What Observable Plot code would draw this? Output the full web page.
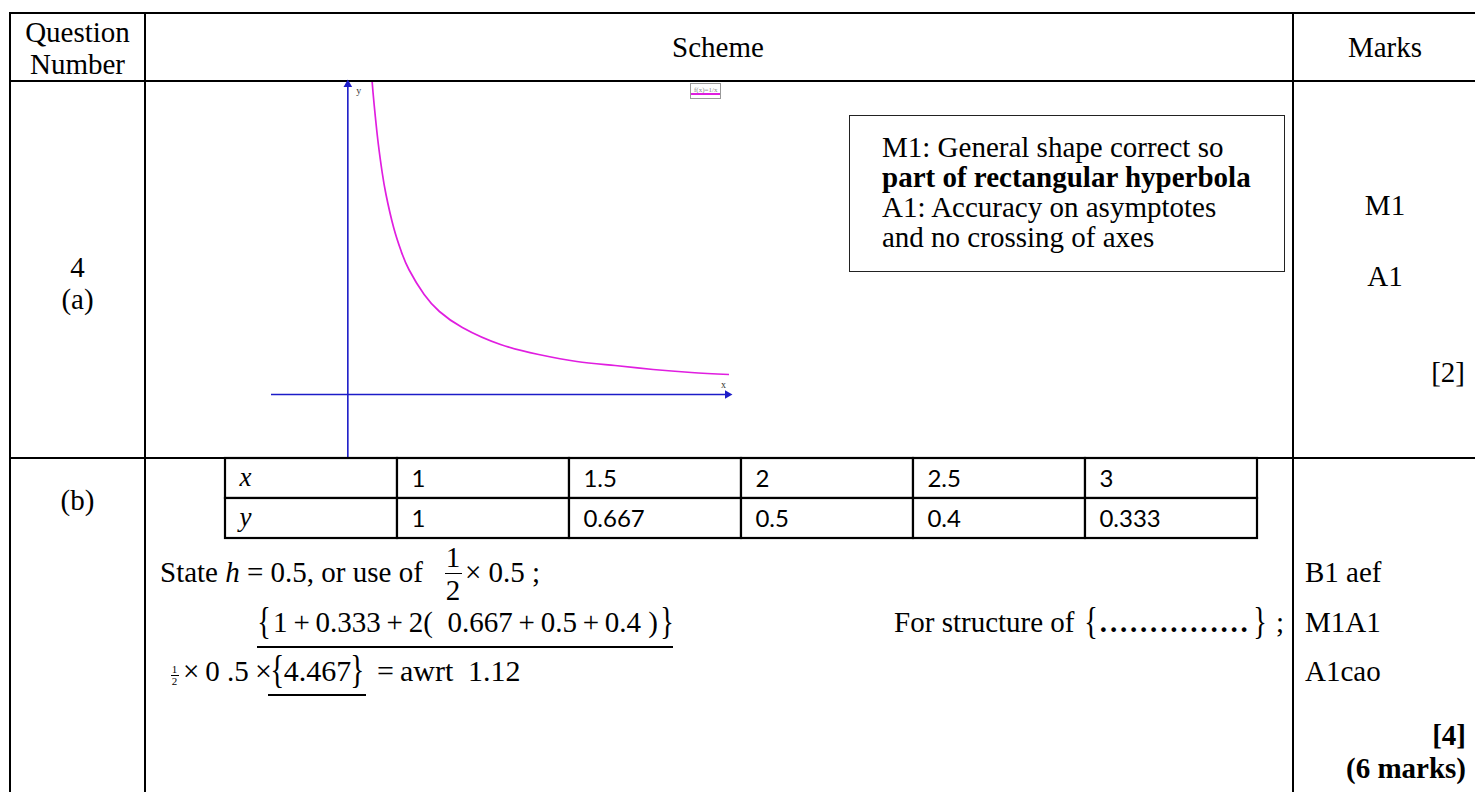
<!DOCTYPE html>
<html><head><meta charset="utf-8">
<script src="https://cdn.jsdelivr.net/npm/d3@7"></script>
<script src="https://cdn.jsdelivr.net/npm/@observablehq/plot@0.6"></script>
<style>
body{margin:0;background:#fff;}
#page{position:relative;width:1475px;height:792px;overflow:hidden;font-family:"Liberation Serif","Times New Roman",serif;color:#000;background:#fff;}
.t{position:absolute;white-space:nowrap;line-height:1;}
.ln{position:absolute;background:#000;}
.br{display:inline-block;line-height:0;font-size:1.3em;transform:scaleX(0.75);vertical-align:-0.06em;}
.br.tight{margin:0 -0.09em;}
</style></head><body><div id="page"></div>
<script>
// ---------- data ----------
// curve f(x) = 1/x
const curveX = [0.30, 0.33, 0.36, 0.40, 0.45, 0.50, 0.60, 0.70, 0.80, 1.00, 1.20, 1.50, 2.00, 2.50, 3.00, 3.50, 4.00, 4.50, 5.00];
const curveY = [3.30, 3.02, 2.78, 2.50, 2.22, 2.00, 1.67, 1.43, 1.25, 1.00, 0.83, 0.67, 0.50, 0.40, 0.33, 0.29, 0.25, 0.22, 0.20];
const graphXDomain = [-1, 5];
const graphYDomain = [-0.64, 3.12];
// table of values
const rowLabels = ["x", "y"];
const tableX = ["1", "1.5", "2", "2.5", "3"];
const tableY = ["1", "0.667", "0.5", "0.4", "0.333"];
// results
const hValue = "0.5";
const bracketSum = "4.467";
const answer = "1.12";

const page = document.getElementById("page");
function line(x, y, w, h, color = "#000") { const d = document.createElement("div"); d.className = "ln"; Object.assign(d.style, {left: x + "px", top: y + "px", width: w + "px", height: h + "px", background: color}); page.appendChild(d); return d; }
// x, baseline y
function text(html, x, base, anchor = "middle", fs = 29, style = {}) {
  const d = document.createElement("div"); d.className = "t"; d.innerHTML = html;
  const tx = anchor === "middle" ? "-50%" : anchor === "end" ? "-100%" : "0";
  Object.assign(d.style, {left: x + "px", top: (base - 0.8375 * fs) + "px", fontSize: fs + "px", transform: `translateX(${tx})`}, style);
  page.appendChild(d); return d;
}
function frac(n, d, cx, barY, fs, w) {
  text(n, cx, barY - 0.2 * fs, "middle", fs);
  line(cx - w / 2, barY, w, Math.max(1, fs / 22));
  text(d, cx, barY + 0.95 * fs, "middle", fs);
}

// ---------- graph (Plot) ----------
const curve = curveX.map((x, i) => ({x, y: curveY[i]}));
const blue = "#1c1cc8", magenta = "#e01ee0";
const graph = Plot.plot({
  width: 458, height: 376, margin: 0,
  x: {domain: graphXDomain, axis: null},
  y: {domain: graphYDomain, axis: null},
  style: {background: "transparent", overflow: "visible"},
  marks: [
    Plot.ruleY([0], {stroke: blue, strokeWidth: 1.6}),
    Plot.ruleX([0], {stroke: blue, strokeWidth: 1.6}),
    Plot.dot([{x: graphXDomain[1], y: 0}], {x: "x", y: "y", symbol: "triangle", r: 3.2, fill: blue, rotate: 90, dx: -2}),
    Plot.dot([{x: 0, y: graphYDomain[1]}], {x: "x", y: "y", symbol: "triangle", r: 3.2, fill: blue, dy: 2}),
    Plot.text([{x: 0, y: graphYDomain[1]}], {x: "x", y: "y", text: () => "y", dx: 11, dy: 8, fontSize: 10, fontFamily: "Liberation Serif", fill: "#333"}),
    Plot.text([{x: graphXDomain[1], y: 0}], {x: "x", y: "y", text: () => "x", dx: -6, dy: -10, fontSize: 10, fontFamily: "Liberation Serif", fill: "#333"}),
    Plot.line(curve, {x: "x", y: "y", stroke: magenta, strokeWidth: 1.7, curve: "natural", clip: true})
  ]
});
Object.assign(graph.style, {position: "absolute", left: "271px", top: "82px"});

// ---------- table grid ----------
line(9, 12, 1466, 2);       // top
line(9, 80, 1466, 2);       // header bottom
line(9, 457, 1466, 2);      // row (a) bottom
line(9, 12, 2, 780);        // left
line(144, 12, 2, 780);      // col 1 right
line(1292, 12, 2, 780);     // col 3 left
page.appendChild(graph);

// header
text("Question", 77.5, 42);
text("Number", 77.5, 74);
text("Scheme", 718, 57);
text("Marks", 1385, 57);

// row (a)
text("4", 77.5, 277);
text("(a)", 77.5, 309);
const box = document.createElement("div");
Object.assign(box.style, {position: "absolute", left: "849px", top: "115px", width: "434px", height: "155px", border: "1.5px solid #222"});
page.appendChild(box);
text("M1: General shape correct so", 882, 157, "start");
text("<b>part of rectangular hyperbola</b>", 882, 187, "start");
text("A1: Accuracy on asymptotes", 882, 217, "start");
text("and no crossing of axes", 882, 247, "start");
// legend chip of the sketch
const chip = document.createElement("div");
chip.innerHTML = "f(x)=1/x";
Object.assign(chip.style, {position: "absolute", left: "690px", top: "83px", font: "7px 'Liberation Serif',serif", color: "#888", border: "1px solid #999", padding: "2px 3px 4px", background: "#fff", boxShadow: "inset 0 -3px 0 #fff, inset 0 -5px 0 " + magenta});
page.appendChild(chip);
text("M1", 1385, 215);
text("A1", 1385, 286);
text("[2]", 1465, 382, "end");

// row (b)
text("(b)", 77.5, 510);

// table of values (Plot)
const cells = [];
rowLabels.forEach((r, ri) => {
  cells.push({col: 0, row: r, label: r, italic: true});
  (ri === 0 ? tableX : tableY).forEach((v, ci) => cells.push({col: ci + 1, row: r, label: v, italic: false}));
});
const tW = 1035, tH = 82, bw = (tW - 2) / 6;
const tbl = Plot.plot({
  width: tW, height: tH, margin: 1,
  x: {type: "band", domain: d3.range(6), padding: 0, axis: null},
  y: {type: "band", domain: rowLabels, padding: 0, axis: null},
  style: {background: "transparent", overflow: "visible"},
  marks: [
    Plot.cell(cells, {x: "col", y: "row", fill: "#fff", stroke: "#000", strokeWidth: 2.2}),
    Plot.text(cells.filter(d => !d.italic), {x: "col", y: "row", text: "label", textAnchor: "start", dx: -bw / 2 + 14, dy: 1, fontSize: 24, fontFamily: "Lato, 'Noto Sans', sans-serif"}),
    Plot.text(cells.filter(d => d.italic), {x: "col", y: "row", text: "label", textAnchor: "start", dx: -bw / 2 + 14, dy: -1, fontSize: 27, fontStyle: "italic", fontFamily: "'Liberation Serif', serif"})
  ]
});
Object.assign(tbl.style, {position: "absolute", left: "223px", top: "457px"});
page.appendChild(tbl);

// working
const th = "&thinsp;";
text(`State <i>h</i> = ${hValue}, or use of`, 160, 582, "start");
frac("1", "2", 453, 573, 29, 17);
text(`× ${hValue} ;`, 465, 582, "start");

const sumStr = `<span class="br">{</span>${tableY[0]}${th}+${th}${tableY[4]}${th}+${th}2(&nbsp; ${tableY[1]}${th}+${th}${tableY[2]}${th}+${th}${tableY[3]} )<span class="br">}</span>`;
text(sumStr, 255, 632, "start");
line(257, 646, 416, 1.5);
text(`For structure of <span class="br">{</span><b style="letter-spacing:2.8px">...............</b><span class="br">}</span> ;`, 1284, 632, "end");

frac("1", "2", 174.5, 675, 11, 8);
text(`×${th}0 .5`, 183, 681, "start", 29);
text(`×<span class="br tight">{</span>${bracketSum}<span class="br tight">}</span>`, 255, 681, "start", 30);
text(`=${th}awrt`, 377, 681, "start", 30);
text(answer, 468, 681, "start", 30);
line(268, 694, 98, 1.5);

// marks
text("B1 aef", 1305, 582, "start");
text("M1A1", 1305, 632, "start");
text("A1cao", 1305, 681, "start");
text("<b>[4]</b>", 1466, 745, "end");
text("<b>(6 marks)</b>", 1466, 778, "end");
</script></body></html>
